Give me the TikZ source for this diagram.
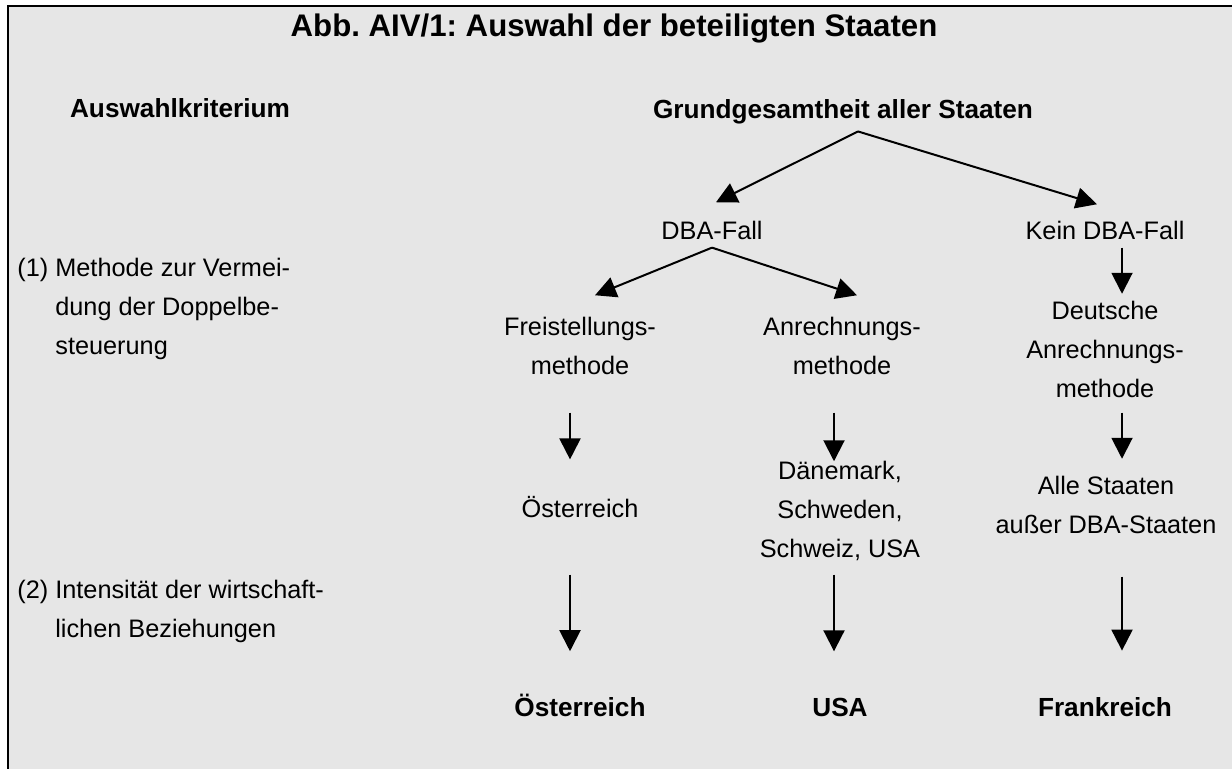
\documentclass[tikz,border=0pt]{standalone}
\usepackage{fontspec}
\setmainfont{Liberation Sans}
\usepackage{tikz}
\usetikzlibrary{arrows.meta}
\definecolor{abb_bg}{RGB}{230, 230, 230}
\frenchspacing

\begin{document}
\begin{tikzpicture}[x=0.5pt, y=-0.5pt,
    font=\fontsize{12.65pt}{19.5pt}\selectfont,
    txt/.style={align=center, inner sep=0pt, anchor=base},
    hd/.style={txt, font=\fontsize{13.1pt}{19.5pt}\selectfont\bfseries},
    crit/.style={align=left, inner sep=0pt, anchor=base west},
    arr/.style={-{Triangle[length=10.5pt, width=10.5pt]}, line width=1pt}]
  \useasboundingbox (0,0) rectangle (1232,769);
  \fill[abb_bg] (8,6) rectangle (1232,769);
  \draw[line width=1pt] (8,769) -- (8,6.5) -- (1232,6.5);
  \node[txt, font=\fontsize{15.6pt}{18pt}\selectfont\bfseries] (title)
    at (614,37) {Abb. AIV/1: Auswahl der beteiligten Staaten};
  \node[hd] (krit) at (180,118) {Auswahlkriterium};
  \node[hd] (root) at (843,119) {Grundgesamtheit aller Staaten};
  \node[txt] (dba) at (712,240) {DBA-Fall};
  \node[txt] (kein) at (1105,240) {Kein DBA-Fall};
  \node[crit] (k1) at (17,355)
    {(1) Methode zur Vermei-\\\phantom{(1)} dung der Doppelbe-\\\phantom{(1)} steuerung};
  \node[txt] (frei) at (580,375) {Freistellungs-\\methode};
  \node[txt] (anr) at (842,375) {Anrechnungs-\\methode};
  \node[txt] (deu) at (1105,398) {Deutsche\\Anrechnungs-\\methode};
  \node[txt] (oe1) at (580,518) {Österreich};
  \node[txt] (dk) at (840,558) {Dänemark,\\Schweden,\\Schweiz, USA};
  \node[txt] (alle) at (1106,534) {Alle Staaten\\außer DBA-Staaten};
  \node[crit] (k2) at (17,638)
    {(2) Intensität der wirtschaft-\\\phantom{(2)} lichen Beziehungen};
  \node[hd] (oe2) at (580,717) {Österreich};
  \node[hd] (usa) at (840,717) {USA};
  \node[hd] (fr) at (1105,717) {Frankreich};
  \coordinate (split) at ([xshift=7.5pt, yshift=-3.25pt]root.south);
  \draw[arr] (split) -- ([xshift=2pt, yshift=9.5pt]dba.north);
  \draw[arr] (split) -- ([xshift=-4pt, yshift=8.5pt]kein.north);
  \draw[arr] ([yshift=-3.5pt]dba.south) -- ([xshift=7.5pt, yshift=11pt]frei.north);
  \draw[arr] ([yshift=-3.5pt]dba.south) -- ([xshift=7.5pt, yshift=11pt]anr.north);
  \draw[arr] ([xshift=8.5pt, yshift=-3.5pt]kein.south) -- ([xshift=8.5pt, yshift=3.75pt]deu.north);
  \draw[arr] ([xshift=-5pt, yshift=-18.5pt]frei.south) -- ([xshift=-5pt, yshift=18.5pt]oe1.north);
  \draw[arr] ([xshift=-4pt, yshift=-18.5pt]anr.south) -- ([xshift=-3pt]dk.north);
  \draw[arr] ([xshift=8.5pt, yshift=-7pt]deu.south) -- ([xshift=8pt, yshift=8.75pt]alle.north);
  \draw[arr] ([xshift=-5pt, yshift=-28pt]oe1.south) -- ([xshift=-5pt, yshift=21.5pt]oe2.north);
  \draw[arr] ([xshift=-3pt, yshift=-6.5pt]dk.south) -- ([xshift=-3pt, yshift=23.5pt]usa.north);
  \draw[arr] ([xshift=8pt, yshift=-21pt]alle.south) -- ([xshift=8.5pt, yshift=23.5pt]fr.north);
\end{tikzpicture}
\end{document}
